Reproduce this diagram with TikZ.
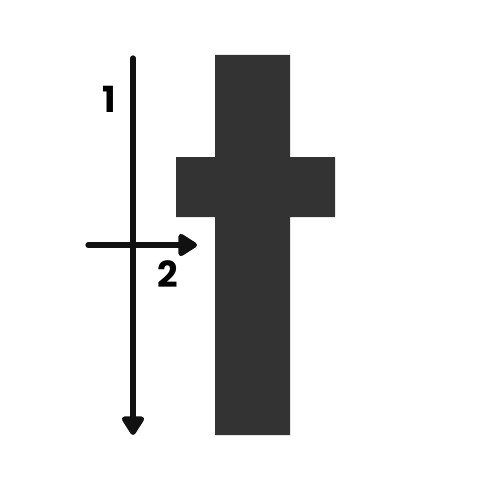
\documentclass[tikz,border=0pt]{standalone}
\usepackage{fontspec}
\setmainfont{Poppins}
\usetikzlibrary{arrows.meta}
\definecolor{crossgray}{HTML}{333333}
\definecolor{arrowblack}{HTML}{111111}
\tikzset{
  px/.style={x=1pt,y=-1pt},
  arrowline/.style={draw=arrowblack, line width=5.2pt, line cap=round,
    -{Triangle[width=25pt,length=21pt,round]}},
  numlabel/.style={font=\fontsize{36}{36}\selectfont\bfseries, text=black, inner sep=0pt}
}
\begin{document}
\begin{tikzpicture}[px]
\useasboundingbox (0,0) rectangle (500,500);
% cross
\fill[crossgray] (215,55) -- (290,55) -- (290,157) -- (335,157) -- (335,217)
  -- (290,217) -- (290,435) -- (215,435) -- (215,217) -- (176,217)
  -- (176,157) -- (215,157) -- cycle;
% arrows
\coordinate (vtop) at (133,58);
\coordinate (vbot) at (133,435);
\coordinate (hleft) at (88,245);
\coordinate (hright) at (197,245);
\draw[arrowline] (vtop) -- (vbot);
\draw[arrowline] (hleft) -- (hright);
% labels
\node[numlabel] (l1) at (109,99) {1};
\node[numlabel] (l2) at (168,274) {2};
\end{tikzpicture}
\end{document}
